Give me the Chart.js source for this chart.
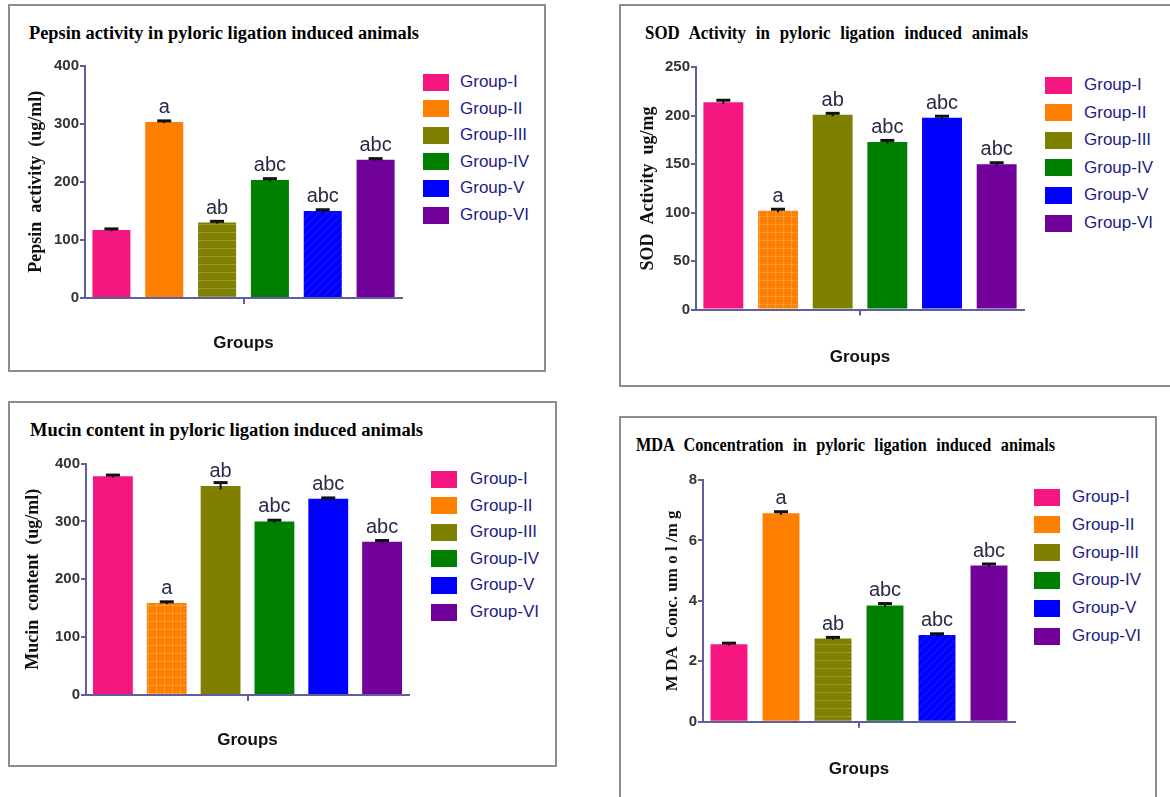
<!DOCTYPE html>
<html>
<head>
<meta charset="utf-8">
<script src="https://cdn.jsdelivr.net/npm/chart.js@4.4.1/dist/chart.umd.min.js"></script>
<style>
body{margin:0;background:#fff;width:1170px;height:797px;overflow:hidden;position:relative;}
.panel{position:absolute;border:2px solid #8c8c8c;box-sizing:border-box;}
canvas{position:absolute;}
.ttl{position:absolute;font:bold 18px 'Liberation Serif',serif;color:#000;white-space:nowrap;line-height:20px;transform-origin:0 50%;}
.row{position:absolute;height:17px;font:17px 'Liberation Sans',Arial,sans-serif;color:#1c1c86;white-space:nowrap;display:flex;align-items:center;}
.row i{display:inline-block;height:17px;}
</style>
</head>
<body>
<script>
// shared categories
const groups = ['Group-I', 'Group-II', 'Group-III', 'Group-IV', 'Group-V', 'Group-VI'];

// Pepsin activity (ug/ml)
const pepsinValues = [117, 303, 130, 203, 150, 238];
const pepsinErrors = [2, 2, 2, 2.5, 2, 2];
const pepsinLetters = ['', 'a', 'ab', 'abc', 'abc', 'abc'];
const pepsinTicks = [0, 400, 100];

// SOD activity (ug/mg)
const sodValues = [214, 102, 201, 173, 198, 150];
const sodErrors = [2, 1.5, 1.5, 1.5, 1.5, 1.5];
const sodLetters = ['', 'a', 'ab', 'abc', 'abc', 'abc'];
const sodTicks = [0, 250, 50];

// Mucin content (ug/ml)
const mucinValues = [378, 159, 361, 300, 339, 265];
const mucinErrors = [2, 2, 6, 2, 1.5, 2];
const mucinLetters = ['', 'a', 'ab', 'abc', 'abc', 'abc'];
const mucinTicks = [0, 400, 100];

// MDA concentration (umol/mg)
const mdaValues = [2.56, 6.9, 2.75, 3.85, 2.87, 5.17];
const mdaErrors = [0.04, 0.05, 0.04, 0.06, 0.04, 0.05];
const mdaLetters = ['', 'a', 'ab', 'abc', 'abc', 'abc'];
const mdaTicks = [0, 8, 2];

const groupColors = ['#f5167f', '#ff7f00', '#808000', '#008000', '#0000ff', '#72009a'];
const axisColor = '#5f5fa0';

function makePattern(color, kind) {
  const c = document.createElement('canvas');
  c.width = 8; c.height = 8;
  const g = c.getContext('2d');
  g.fillStyle = color;
  g.fillRect(0, 0, 8, 8);
  g.strokeStyle = kind === 'diag' ? 'rgba(255,255,255,0.13)' : 'rgba(255,255,255,0.2)';
  g.lineWidth = 1;
  g.beginPath();
  if (kind === 'h' || kind === 'grid') { g.moveTo(0, 4.5); g.lineTo(8, 4.5); }
  if (kind === 'grid') { g.moveTo(4.5, 0); g.lineTo(4.5, 8); }
  if (kind === 'diag') { g.moveTo(0, 8); g.lineTo(8, 0); g.moveTo(-2, 2); g.lineTo(2, -2); g.moveTo(6, 10); g.lineTo(10, 6); }
  g.stroke();
  return g.createPattern(c, 'repeat');
}

// error caps and significance letters
const errorCaps = {
  id: 'errorCaps',
  afterDatasetsDraw(chart, args, opts) {
    const ctx = chart.ctx;
    const y = chart.scales.y;
    const vals = chart.data.datasets[0].data;
    ctx.save();
    chart.getDatasetMeta(0).data.forEach((bar, i) => {
      const v = vals[i], e = opts.errors[i];
      const hi = y.getPixelForValue(v + e), lo = y.getPixelForValue(v - e);
      ctx.strokeStyle = '#111';
      ctx.lineWidth = 2;
      ctx.beginPath(); ctx.moveTo(bar.x, lo); ctx.lineTo(bar.x, hi); ctx.stroke();
      ctx.lineWidth = 3;
      ctx.beginPath(); ctx.moveTo(bar.x - 7, hi); ctx.lineTo(bar.x + 7, hi); ctx.stroke();
      if (opts.letters[i]) {
        ctx.fillStyle = '#2a2a45';
        ctx.font = "20px 'Liberation Sans', Arial, sans-serif";
        ctx.textAlign = 'center';
        ctx.textBaseline = 'alphabetic';
        ctx.fillText(opts.letters[i], bar.x, y.getPixelForValue(v) - 9);
      }
    });
    ctx.restore();
  }
};

Chart.defaults.font.family = "'Liberation Sans', Arial, sans-serif";

function addPanel(p) {
  const [bx, by, bw, bh] = p.box;
  const border = document.createElement('div');
  border.className = 'panel';
  Object.assign(border.style, {left: bx + 'px', top: by + 'px', width: bw + 'px', height: bh + 'px'});
  document.body.appendChild(border);

  const t = document.createElement('div');
  t.className = 'ttl';
  t.textContent = p.title;
  Object.assign(t.style, {left: p.titlePos[0] + 'px', top: (p.titlePos[1] - 10) + 'px', wordSpacing: p.wordSpacing + 'px'});
  document.body.appendChild(t);
  const natural = t.getBoundingClientRect().width;
  t.style.transform = 'scaleX(' + (p.titleWidth / natural) + ')';

  groups.forEach((name, i) => {
    const r = document.createElement('div');
    r.className = 'row';
    r.style.left = p.leg.boxX + 'px';
    r.style.top = (p.leg.y0 + i * p.leg.step - 8.5) + 'px';
    const sw = document.createElement('i');
    sw.style.width = p.leg.boxW + 'px';
    sw.style.background = groupColors[i];
    sw.style.marginRight = (p.leg.textX - p.leg.boxX - p.leg.boxW) + 'px';
    r.appendChild(sw);
    r.appendChild(document.createTextNode(name));
    document.body.appendChild(r);
  });

  const cv = document.createElement('canvas');
  cv.width = bw; cv.height = bh;
  Object.assign(cv.style, {left: bx + 'px', top: by + 'px', width: bw + 'px', height: bh + 'px'});
  document.body.appendChild(cv);

  const yW = p.axisX - bx;
  const xH = by + bh - p.zeroY;
  new Chart(cv, {
    type: 'bar',
    data: {
      labels: groups,
      datasets: [{
        data: p.values,
        backgroundColor: groupColors.map((c, i) => p.patterns[i] ? makePattern(c, p.patterns[i]) : c),
        barPercentage: p.barPct,
        categoryPercentage: 1
      }]
    },
    options: {
      responsive: false,
      animation: false,
      devicePixelRatio: 1,
      layout: {padding: {left: 0, top: p.topY - by, right: bx + bw - p.rightX, bottom: 0}},
      plugins: {
        legend: {display: false},
        tooltip: {enabled: false},
        errorCaps: {errors: p.errors, letters: p.letters}
      },
      scales: {
        x: {
          ticks: {display: false},
          grid: {
            drawOnChartArea: false, drawTicks: true, tickLength: 6, lineWidth: 2,
            color: c => c.index === 3 ? axisColor : 'rgba(0,0,0,0)'
          },
          border: {color: axisColor, width: 2},
          title: {
            display: true, text: 'Groups', color: '#111',
            font: {size: 17, weight: 'bold'},
            padding: {top: 0, bottom: by + bh - p.groupsY - 10.2}
          },
          afterFit: s => { s.height = xH; }
        },
        y: {
          min: p.ticks[0], max: p.ticks[1],
          ticks: {stepSize: p.ticks[2], color: '#333', padding: 1, font: {size: 15, weight: 'bold'}},
          grid: {drawOnChartArea: false, tickLength: 5, lineWidth: 2, color: axisColor},
          border: {color: axisColor, width: 2},
          title: {
            display: true, text: p.yTitle, color: '#111',
            font: {family: "'Liberation Serif', serif", size: p.yTitleSize, weight: 'bold'},
            padding: {top: p.yTitleX - bx - p.yTitleSize * 0.6, bottom: 0}
          },
          afterFit: s => { s.width = yW; }
        }
      }
    },
    plugins: [errorCaps]
  });
}

addPanel({
  box: [8, 4, 538, 368], axisX: 85, topY: 65.7, rightX: 402, zeroY: 298, groupsY: 343, yTitleX: 36,
  title: 'Pepsin activity in pyloric ligation induced animals', titlePos: [29, 33], titleWidth: 390, wordSpacing: 0,
  leg: {boxX: 423, boxW: 26, textX: 460, y0: 82, step: 26.6},
  values: pepsinValues, errors: pepsinErrors, letters: pepsinLetters, ticks: pepsinTicks,
  yTitle: 'Pepsin  activity  (ug/ml)', yTitleSize: 18, barPct: 0.72,
  patterns: [null, null, 'h', null, 'diag', null]
});

addPanel({
  box: [619, 4, 553, 383], axisX: 696, topY: 67.3, rightX: 1024, zeroY: 309.5, groupsY: 357, yTitleX: 648,
  title: 'SOD Activity in pyloric ligation induced animals', titlePos: [645, 33], titleWidth: 383, wordSpacing: 6,
  leg: {boxX: 1045, boxW: 27, textX: 1084, y0: 85, step: 27.6},
  values: sodValues, errors: sodErrors, letters: sodLetters, ticks: sodTicks,
  yTitle: 'SOD  Activity  ug/mg', yTitleSize: 18, barPct: 0.73,
  patterns: [null, 'grid', null, null, null, null]
});

addPanel({
  box: [8, 401, 549, 366], axisX: 86, topY: 463.5, rightX: 409, zeroY: 695, groupsY: 740, yTitleX: 33,
  title: 'Mucin content in pyloric ligation induced animals', titlePos: [30, 430], titleWidth: 393, wordSpacing: 0,
  leg: {boxX: 431, boxW: 26, textX: 470, y0: 479, step: 26.6},
  values: mucinValues, errors: mucinErrors, letters: mucinLetters, ticks: mucinTicks,
  yTitle: 'Mucin  content  (ug/ml)', yTitleSize: 18, barPct: 0.74,
  patterns: [null, 'grid', null, null, null, null]
});

addPanel({
  box: [619, 416, 538, 384], axisX: 703, topY: 480, rightX: 1015, zeroY: 721.7, groupsY: 769, yTitleX: 673,
  title: 'MDA Concentration in pyloric ligation induced animals', titlePos: [636, 445], titleWidth: 419, wordSpacing: 6,
  leg: {boxX: 1034, boxW: 26, textX: 1072, y0: 497, step: 27.8},
  values: mdaValues, errors: mdaErrors, letters: mdaLetters, ticks: mdaTicks,
  yTitle: 'M DA  Conc. um o l /m g', yTitleSize: 17, barPct: 0.71,
  patterns: [null, null, 'h', null, 'diag', null]
});
</script>
</body>
</html>
